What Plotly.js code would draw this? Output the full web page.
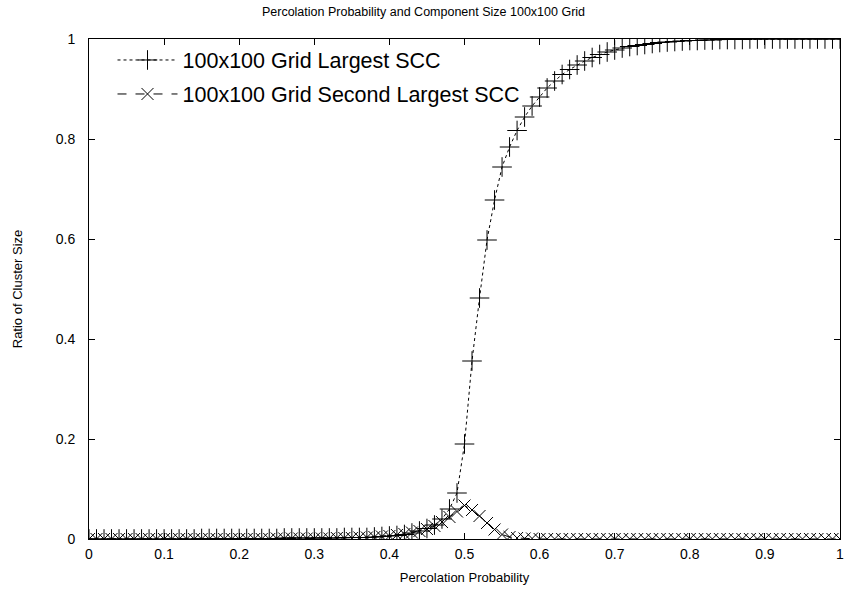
<!DOCTYPE html>
<html>
<head>
<meta charset="utf-8">
<script src="https://cdn.plot.ly/plotly-3.0.1.min.js"></script>
<style>html,body{margin:0;padding:0;background:#fff;}#chart{width:847px;height:598px;}</style>
</head>
<body>
<div id="chart"></div>
<script>
// Percolation probability (x)
const probability = [
  0.00,0.01,0.02,0.03,0.04,0.05,0.06,0.07,0.08,0.09,
  0.10,0.11,0.12,0.13,0.14,0.15,0.16,0.17,0.18,0.19,
  0.20,0.21,0.22,0.23,0.24,0.25,0.26,0.27,0.28,0.29,
  0.30,0.31,0.32,0.33,0.34,0.35,0.36,0.37,0.38,0.39,
  0.40,0.41,0.42,0.43,0.44,0.45,0.46,0.47,0.48,0.49,
  0.50,0.51,0.52,0.53,0.54,0.55,0.56,0.57,0.58,0.59,
  0.60,0.61,0.62,0.63,0.64,0.65,0.66,0.67,0.68,0.69,
  0.70,0.71,0.72,0.73,0.74,0.75,0.76,0.77,0.78,0.79,
  0.80,0.81,0.82,0.83,0.84,0.85,0.86,0.87,0.88,0.89,
  0.90,0.91,0.92,0.93,0.94,0.95,0.96,0.97,0.98,0.99,
  1.00
];
// Largest SCC ratio
const largestSCC = [
  0.000,0.000,0.000,0.000,0.000,0.000,0.000,0.000,0.000,0.000,
  0.000,0.000,0.000,0.000,0.000,0.001,0.001,0.001,0.001,0.001,
  0.001,0.001,0.001,0.001,0.001,0.001,0.002,0.002,0.002,0.002,
  0.002,0.002,0.002,0.002,0.003,0.003,0.003,0.003,0.004,0.005,
  0.006,0.007,0.009,0.012,0.016,0.021,0.028,0.040,0.060,0.092,
  0.190,0.356,0.482,0.598,0.678,0.744,0.784,0.817,0.844,0.866,
  0.884,0.902,0.916,0.929,0.939,0.948,0.956,0.963,0.969,0.974,
  0.978,0.982,0.985,0.987,0.989,0.991,0.993,0.994,0.995,0.996,
  0.997,0.997,0.998,0.998,0.999,0.999,0.999,0.999,1.000,1.000,
  1.000,1.000,1.000,1.000,1.000,1.000,1.000,1.000,1.000,1.000,
  1.000
];
// Second largest SCC ratio
const secondSCC = [
  0.000,0.000,0.000,0.000,0.000,0.000,0.000,0.000,0.000,0.000,
  0.000,0.000,0.000,0.000,0.000,0.000,0.000,0.000,0.000,0.000,
  0.000,0.000,0.000,0.000,0.000,0.001,0.001,0.001,0.001,0.001,
  0.001,0.001,0.001,0.002,0.002,0.002,0.003,0.003,0.004,0.005,
  0.006,0.008,0.010,0.013,0.016,0.020,0.026,0.034,0.044,0.055,
  0.067,0.058,0.046,0.032,0.019,0.009,0.004,0.002,0.001,0.001,
  0.000,0.000,0.000,0.000,0.000,0.000,0.000,0.000,0.000,0.000,
  0.000,0.000,0.000,0.000,0.000,0.000,0.000,0.000,0.000,0.000,
  0.000,0.000,0.000,0.000,0.000,0.000,0.000,0.000,0.000,0.000,
  0.000,0.000,0.000,0.000,0.000,0.000,0.000,0.000,0.000,0.000,
  0.000
];
const seriesNames = ["100x100 Grid Largest SCC", "100x100 Grid Second Largest SCC"];
const xTicks = [0,0.1,0.2,0.3,0.4,0.5,0.6,0.7,0.8,0.9,1];
const xTickText = ["0","0.1","0.2","0.3","0.4","0.5","0.6","0.7","0.8","0.9","1"];
const yTicks = [0,0.2,0.4,0.6,0.8,1];
const yTickText = ["0","0.2","0.4","0.6","0.8","1"];

const FONT = "Liberation Sans, Arial, Helvetica, sans-serif";

const traces = [
  {
    x: probability, y: largestSCC, name: seriesNames[0], type: "scatter", mode: "lines+markers",
    legend: "legend",
    line: {color: "#000", width: 1, dash: "dot"},
    marker: {symbol: "cross-thin-open", size: 14, color: "#000", line: {color: "#000", width: 1}}
  },
  {
    x: probability, y: secondSCC, name: seriesNames[1], type: "scatter", mode: "lines+markers",
    legend: "legend2",
    line: {color: "#000", width: 1, dash: "dash"},
    marker: {symbol: "x-thin-open", size: 12, color: "#000", line: {color: "#000", width: 1}}
  }
];

const axisCommon = {
  showline: true, linecolor: "#000", linewidth: 1, mirror: "ticks",
  ticks: "inside", ticklen: 6, tickwidth: 1, tickcolor: "#000",
  showgrid: false, zeroline: false, tickmode: "array",
  tickfont: {family: FONT, size: 14, color: "#000"}
};

const legendCommon = {
  xanchor: "left", yanchor: "middle",
  bgcolor: "rgba(0,0,0,0)", borderwidth: 0,
  font: {family: FONT, size: 21.5, color: "#000"},
  itemwidth: 60
};

const layout = {
  width: 847, height: 598,
  paper_bgcolor: "#fff", plot_bgcolor: "#fff",
  margin: {l: 89, r: 7, t: 39, b: 59, pad: 0},
  showlegend: true,
  title: {text: "Percolation Probability and Component Size 100x100 Grid",
    font: {family: FONT, size: 12.5, color: "#000"}, x: 0.5, xanchor: "center", y: 0.98, yanchor: "middle"},
  xaxis: Object.assign({}, axisCommon, {
    range: [0, 1], tickvals: xTicks, ticktext: xTickText, ticklabelstandoff: 2,
    title: {text: "Percolation Probability", font: {family: FONT, size: 13, color: "#000"}, standoff: 12}
  }),
  yaxis: Object.assign({}, axisCommon, {
    range: [0, 1], tickvals: yTicks, ticktext: yTickText, ticklabelstandoff: 10,
    title: {text: "Ratio of Cluster Size", font: {family: FONT, size: 13, color: "#000"}, standoff: 30}
  }),
  legend: Object.assign({}, legendCommon, {x: 0.0313, y: 0.958}),
  legend2: Object.assign({}, legendCommon, {x: 0.0313, y: 0.89})
};

Plotly.newPlot("chart", traces, layout, {displayModeBar: false, staticPlot: true});
</script>
</body>
</html>
